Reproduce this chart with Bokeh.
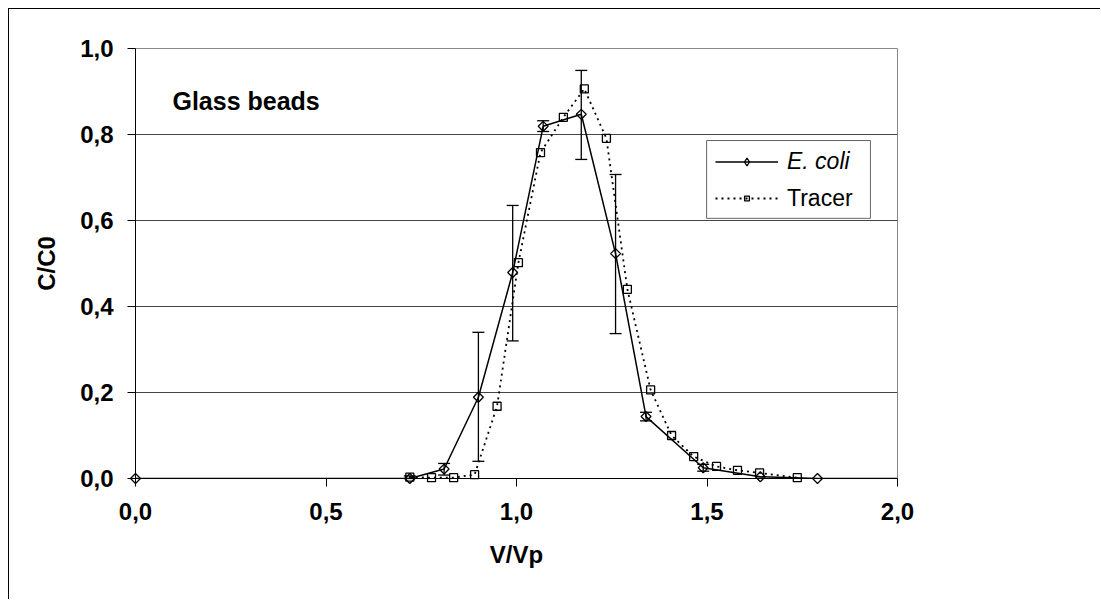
import numpy as np
from bokeh.plotting import figure
from bokeh.models import (FixedTicker, Legend, LegendItem, BoxAnnotation, Label, ColumnDataSource,
                          CDSView, IndexFilter)
from bokeh.embed import file_html
from bokeh.resources import INLINE

# ---- data ----
ecoli_x = [0.0, 0.72, 0.81, 0.90, 0.99, 1.07, 1.17, 1.26, 1.34, 1.49, 1.64, 1.79, 2.0]
ecoli_y = [0.0, 0.0, 0.022, 0.189, 0.479, 0.819, 0.847, 0.523, 0.144, 0.025, 0.004, 0.0, 0.0]
ecoli_lo = [np.nan, 0.0, 0.008, 0.04, 0.32, 0.807, 0.742, 0.337, 0.134, 0.017, np.nan, np.nan, np.nan]
ecoli_hi = [np.nan, 0.006, 0.035, 0.34, 0.635, 0.832, 0.949, 0.707, 0.154, 0.033, np.nan, np.nan, np.nan]

tracer_x = [0.72, 0.777, 0.835, 0.89, 0.949, 1.005, 1.063, 1.123, 1.178, 1.236, 1.291,
            1.352, 1.407, 1.465, 1.525, 1.58, 1.638, 1.737]
tracer_y = [0.003, 0.002, 0.002, 0.009, 0.168, 0.502, 0.758, 0.840, 0.906, 0.791, 0.44,
            0.206, 0.1, 0.051, 0.028, 0.019, 0.013, 0.002]

x_ticks = [0.0, 0.5, 1.0, 1.5, 2.0]
x_tick_labels = ["0,0", "0,5", "1,0", "1,5", "2,0"]
y_ticks = [0.0, 0.2, 0.4, 0.6, 0.8, 1.0]
y_tick_labels = ["0,0", "0,2", "0,4", "0,6", "0,8", "1,0"]

FONT = "Liberation Sans"

p = figure(frame_width=762, frame_height=430,
           min_border_left=126, min_border_top=39, min_border_right=203, min_border_bottom=121,
           x_range=(0, 2.0), y_range=(0, 1.0),
           output_backend="svg", toolbar_location=None,
           background_fill_color="white", border_fill_color="white")
p.styles = {"border-top": "1px solid black", "border-left": "1px solid black",
            "margin-left": "8px", "margin-top": "8px"}

p.outline_line_color = "#888888"
p.outline_line_width = 1
p.xgrid.grid_line_color = None
p.ygrid.grid_line_color = "#444444"
p.ygrid.grid_line_width = 1
p.ygrid.ticker = FixedTicker(ticks=y_ticks)

for ax in (p.xaxis[0], p.yaxis[0]):
    ax.axis_line_color = "black"
    ax.axis_line_width = 1
    ax.major_tick_line_color = "black"
    ax.major_tick_out = 8
    ax.major_tick_in = 0
    ax.minor_tick_line_color = None
    ax.major_label_text_font = FONT
    ax.major_label_text_font_size = "24px"
    ax.major_label_text_font_style = "bold"
    ax.major_label_text_color = "black"
    ax.axis_label_text_font = FONT
    ax.axis_label_text_font_size = "24px"
    ax.axis_label_text_font_style = "bold"
    ax.axis_label_text_color = "black"

p.xaxis.ticker = FixedTicker(ticks=x_ticks)
p.xaxis.major_label_overrides = dict(zip(x_ticks, x_tick_labels))
p.yaxis.ticker = FixedTicker(ticks=y_ticks)
p.yaxis.major_label_overrides = dict(zip(y_ticks, y_tick_labels))
p.xaxis.axis_label = "V/Vp"
p.yaxis.axis_label = "C/C0"
p.xaxis.major_label_standoff = 16
p.xaxis.axis_label_standoff = 18
p.yaxis.major_label_standoff = 14
p.yaxis.axis_label_standoff = 17

src_e = ColumnDataSource(dict(x=ecoli_x, y=ecoli_y, lo=ecoli_lo, hi=ecoli_hi))
src_t = ColumnDataSource(dict(x=tracer_x, y=tracer_y))
marked = CDSView(filter=IndexFilter(list(range(len(ecoli_x) - 1))))

# error bars
p.segment(x0="x", y0="lo", x1="x", y1="hi", source=src_e, line_color="black", line_width=1.3)
p.scatter(x="x", y="lo", source=src_e, marker="dash", size=12, line_color="black", line_width=1.3, level="overlay")
p.scatter(x="x", y="hi", source=src_e, marker="dash", size=12, line_color="black", line_width=1.3, level="overlay")

# tracer
t_line = p.line(x="x", y="y", source=src_t, line_color="black", line_width=1.8, line_dash="2 4")
t_mark = p.scatter(x="x", y="y", source=src_t, marker="square", size=8, line_color="black",
                   line_width=1.3, fill_alpha=0, level="overlay")

# E. coli
e_line = p.line(x="x", y="y", source=src_e, line_color="black", line_width=1.5)
e_mark = p.scatter(x="x", y="y", source=src_e, view=marked, marker="square", angle=np.pi / 4, size=7,
                   line_color="black", line_width=1.3, fill_alpha=0, level="overlay")
# zero-size diamond renderer: only its legend glyph (drawn unrotated) is visible
e_leg = p.scatter(x="x", y="y", source=src_e, view=marked, marker="diamond", size=0,
                  line_color="black", line_width=1.3, fill_alpha=0)

# legend box
box = BoxAnnotation(left=1.499, right=1.929, bottom=0.605, top=0.786,
                    fill_color="white", fill_alpha=1.0, line_color="#666666", line_alpha=1.0,
                    line_width=1, level="annotation")
p.add_layout(box)

common = dict(border_line_alpha=0, background_fill_alpha=0, padding=0, margin=0, spacing=0,
              glyph_width=63, label_height=30, label_standoff=9,
              label_text_font=FONT, label_text_font_size="23px", label_text_color="black")
leg_e = Legend(items=[LegendItem(label="E. coli", renderers=[e_line, e_leg])],
               location=(580, 302), glyph_height=19, label_text_font_style="italic", **common)
leg_t = Legend(items=[LegendItem(label="Tracer", renderers=[t_line, t_mark])],
               location=(580, 265), glyph_height=12, label_text_font_style="normal", **common)
p.add_layout(leg_e)
p.add_layout(leg_t)

p.add_layout(Label(x=0.097, y=0.879, text="Glass beads", text_font=FONT, text_font_size="25px",
                   text_font_style="bold", text_baseline="alphabetic", text_color="black"))

open("out.html", "w").write(file_html(p, INLINE))
